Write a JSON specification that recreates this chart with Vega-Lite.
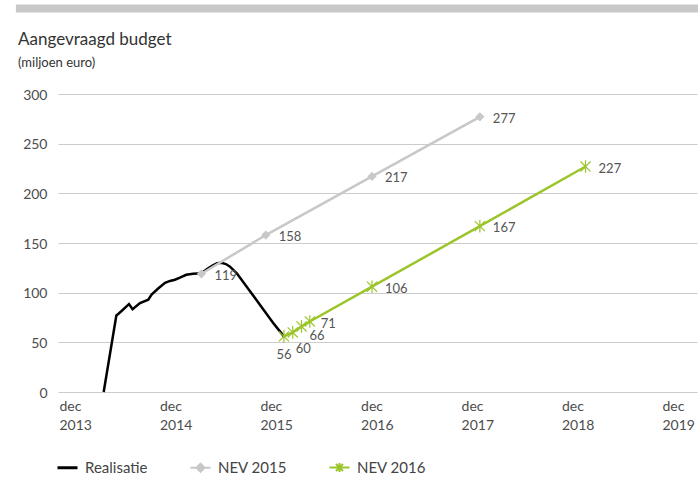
{
  "$schema": "https://vega.github.io/schema/vega-lite/v6.json",
  "autosize": {"type": "none"},
  "padding": {"left": 58, "top": 94, "right": 1, "bottom": 86},
  "width": 639,
  "height": 298,
  "background": "white",
  "title": {
    "text": "Aangevraagd budget",
    "subtitle": "(miljoen euro)",
    "anchor": "start",
    "frame": "group",
    "dx": -40,
    "offset": -66,
    "font": "Lato",
    "fontSize": 17,
    "fontWeight": "normal",
    "color": "#333333",
    "subtitleFont": "Lato",
    "subtitleFontSize": 13,
    "subtitleColor": "#333333",
    "subtitlePadding": 8
  },
  "config": {"view": {"stroke": null}, "font": "Lato"},
  "data": {
    "values": [
      {"series": "Realisatie", "date": "2014-05-16", "value": 0},
      {"series": "Realisatie", "date": "2014-07-01", "value": 77},
      {"series": "Realisatie", "date": "2014-07-10", "value": 79},
      {"series": "Realisatie", "date": "2014-08-16", "value": 88.5},
      {"series": "Realisatie", "date": "2014-08-29", "value": 83.3},
      {"series": "Realisatie", "date": "2014-09-25", "value": 89.5},
      {"series": "Realisatie", "date": "2014-10-25", "value": 93},
      {"series": "Realisatie", "date": "2014-11-06", "value": 98},
      {"series": "Realisatie", "date": "2014-12-01", "value": 104.4},
      {"series": "Realisatie", "date": "2014-12-25", "value": 110},
      {"series": "Realisatie", "date": "2015-01-12", "value": 111.8},
      {"series": "Realisatie", "date": "2015-01-30", "value": 113},
      {"series": "Realisatie", "date": "2015-02-17", "value": 115.1},
      {"series": "Realisatie", "date": "2015-03-12", "value": 118},
      {"series": "Realisatie", "date": "2015-04-06", "value": 119},
      {"series": "Realisatie", "date": "2015-05-06", "value": 119.5},
      {"series": "Realisatie", "date": "2015-05-28", "value": 124},
      {"series": "Realisatie", "date": "2015-06-17", "value": 127.5},
      {"series": "Realisatie", "date": "2015-07-02", "value": 129.6},
      {"series": "Realisatie", "date": "2015-07-18", "value": 130},
      {"series": "Realisatie", "date": "2015-08-03", "value": 128.8},
      {"series": "Realisatie", "date": "2015-08-17", "value": 126.4},
      {"series": "Realisatie", "date": "2015-09-11", "value": 119.8},
      {"series": "Realisatie", "date": "2015-10-17", "value": 106.3},
      {"series": "Realisatie", "date": "2015-12-04", "value": 88},
      {"series": "Realisatie", "date": "2016-01-22", "value": 69.5},
      {"series": "Realisatie", "date": "2016-03-01", "value": 56},
      {"series": "NEV 2015", "date": "2015-05-06", "value": 119},
      {"series": "NEV 2015", "date": "2015-12-26", "value": 158},
      {"series": "NEV 2015", "date": "2017-01-15", "value": 217},
      {"series": "NEV 2015", "date": "2018-02-11", "value": 277},
      {"series": "NEV 2016", "date": "2016-03-01", "value": 56},
      {"series": "NEV 2016", "date": "2016-04-02", "value": 60},
      {"series": "NEV 2016", "date": "2016-05-04", "value": 66},
      {"series": "NEV 2016", "date": "2016-06-03", "value": 71},
      {"series": "NEV 2016", "date": "2017-01-15", "value": 106},
      {"series": "NEV 2016", "date": "2018-02-11", "value": 167},
      {"series": "NEV 2016", "date": "2019-03-02", "value": 227}
    ]
  },
  "layer": [
    {
      "data": {"values": [{}]},
      "mark": {"type": "rule", "color": "#c8c8c8", "strokeWidth": 8, "strokeCap": "butt"},
      "encoding": {
        "x": {"datum": {"year": 2013, "month": 7, "date": 1}, "type": "temporal", "title": null, "scale": {"domain": [{"year": 2013, "month": 12, "date": 1}, {"year": 2020, "month": 4, "date": 10}]}},
        "x2": {"datum": {"year": 2020, "month": 5, "date": 1}},
        "y": {"datum": 386, "type": "quantitative", "title": null, "scale": {"domain": [0, 300], "nice": false}}
      }
    },
    {
      "mark": {"type": "line", "strokeWidth": 2.5, "interpolate": "linear"},
      "encoding": {
        "x": {
          "field": "date", "type": "temporal", "title": null,
          "scale": {"domain": [{"year": 2013, "month": 12, "date": 1}, {"year": 2020, "month": 4, "date": 10}]},
          "axis": {
            "values": [
              {"year": 2013, "month": 12, "date": 1},
              {"year": 2014, "month": 12, "date": 1},
              {"year": 2015, "month": 12, "date": 1},
              {"year": 2016, "month": 12, "date": 1},
              {"year": 2017, "month": 12, "date": 1},
              {"year": 2018, "month": 12, "date": 1},
              {"year": 2019, "month": 12, "date": 1}
            ],
            "labelExpr": "['dec', timeFormat(datum.value, '%Y')]",
            "labelAlign": "left",
            "labelBaseline": "top",
            "labelPadding": 7,
            "labelLineHeight": 19,
            "labelFont": "Lato",
            "labelFontSize": 14,
            "labelColor": "#4d4d4d",
            "labelOffset": 1,
            "labelFlush": false,
            "labelOverlap": false,
            "labelBound": false,
            "ticks": false,
            "domain": false,
            "grid": false
          }
        },
        "y": {
          "field": "value", "type": "quantitative", "title": null,
          "scale": {"domain": [0, 300], "nice": false},
          "axis": {
            "values": [0, 50, 100, 150, 200, 250, 300],
            "grid": true,
            "gridColor": "#cccccc",
            "gridWidth": 1,
            "domain": false,
            "ticks": false,
            "labelPadding": 11,
            "labelFont": "Lato",
            "labelFontSize": 14,
            "labelColor": "#4d4d4d",
            "labelOffset": 1
          }
        },
        "color": {
          "field": "series", "type": "nominal",
          "scale": {"domain": ["Realisatie", "NEV 2015", "NEV 2016"], "range": ["#000000", "#c8c8c8", "#9bc52b"]},
          "legend": {
            "orient": "none",
            "legendX": 2,
            "legendY": 366,
            "direction": "horizontal",
            "title": null,
            "labelFont": "Lato",
            "labelFontSize": 15,
            "labelColor": "#444444",
            "labelOffset": 10,
            "columnPadding": 38,
            "symbolSize": 400,
            "symbolType": "stroke",
            "symbolStrokeWidth": 2,
            "encode": {
              "symbols": {
                "update": {
                  "shape": {"signal": "datum.value === 'Realisatie' ? 'M-1,0H1' : datum.value === 'NEV 2015' ? 'M-1,0H1M-0.4,0L0,-0.4L0.4,0L0,0.4Z' : 'M-1,0H1M-0.35,-0.35L0.35,0.35M-0.35,0.35L0.35,-0.35M0,-0.45V0.45'"},
                  "fill": {"signal": "datum.value === 'NEV 2015' ? '#c8c8c8' : 'transparent'"},
                  "strokeWidth": {"signal": "datum.value === 'Realisatie' ? 3 : 2"}
                }
              }
            }
          }
        }
      }
    },
    {
      "transform": [{"filter": "datum.series === 'NEV 2015'"}],
      "mark": {"type": "point", "shape": "diamond", "filled": true, "size": 85, "color": "#c8c8c8", "opacity": 1},
      "encoding": {
        "x": {"field": "date", "type": "temporal", "title": null},
        "y": {"field": "value", "type": "quantitative", "title": null}
      }
    },
    {
      "transform": [{"filter": "datum.series === 'NEV 2016'"}],
      "mark": {"type": "point", "shape": "M-0.8,-0.8L0.8,0.8M-0.8,0.8L0.8,-0.8M0,-1V1", "filled": false, "size": 160, "stroke": "#9bc52b", "strokeWidth": 1.2, "opacity": 1},
      "encoding": {
        "x": {"field": "date", "type": "temporal", "title": null},
        "y": {"field": "value", "type": "quantitative", "title": null}
      }
    },
    {
      "transform": [{"filter": "datum.series !== 'Realisatie' && datum.value !== 56 && datum.value !== 60 && datum.value !== 66 && datum.value !== 71"}],
      "mark": {"type": "text", "align": "left", "baseline": "middle", "dx": 13, "dy": 2, "font": "Lato", "fontSize": 13, "color": "#555555"},
      "encoding": {
        "x": {"field": "date", "type": "temporal", "title": null},
        "y": {"field": "value", "type": "quantitative", "title": null},
        "text": {"field": "value", "type": "quantitative"}
      }
    },
    {
      "transform": [{"filter": "datum.series === 'NEV 2016' && datum.value === 56"}],
      "mark": {"type": "text", "align": "center", "baseline": "middle", "dx": 0, "dy": 19, "font": "Lato", "fontSize": 13, "color": "#555555"},
      "encoding": {
        "x": {"field": "date", "type": "temporal", "title": null},
        "y": {"field": "value", "type": "quantitative", "title": null},
        "text": {"field": "value", "type": "quantitative"}
      }
    },
    {
      "transform": [{"filter": "datum.series === 'NEV 2016' && datum.value === 60"}],
      "mark": {"type": "text", "align": "left", "baseline": "middle", "dx": 3, "dy": 17, "font": "Lato", "fontSize": 13, "color": "#555555"},
      "encoding": {
        "x": {"field": "date", "type": "temporal", "title": null},
        "y": {"field": "value", "type": "quantitative", "title": null},
        "text": {"field": "value", "type": "quantitative"}
      }
    },
    {
      "transform": [{"filter": "datum.series === 'NEV 2016' && datum.value === 66"}],
      "mark": {"type": "text", "align": "left", "baseline": "middle", "dx": 8, "dy": 10, "font": "Lato", "fontSize": 13, "color": "#555555"},
      "encoding": {
        "x": {"field": "date", "type": "temporal", "title": null},
        "y": {"field": "value", "type": "quantitative", "title": null},
        "text": {"field": "value", "type": "quantitative"}
      }
    },
    {
      "transform": [{"filter": "datum.series === 'NEV 2016' && datum.value === 71"}],
      "mark": {"type": "text", "align": "left", "baseline": "middle", "dx": 11, "dy": 3, "font": "Lato", "fontSize": 13, "color": "#555555"},
      "encoding": {
        "x": {"field": "date", "type": "temporal", "title": null},
        "y": {"field": "value", "type": "quantitative", "title": null},
        "text": {"field": "value", "type": "quantitative"}
      }
    }
  ]
}
